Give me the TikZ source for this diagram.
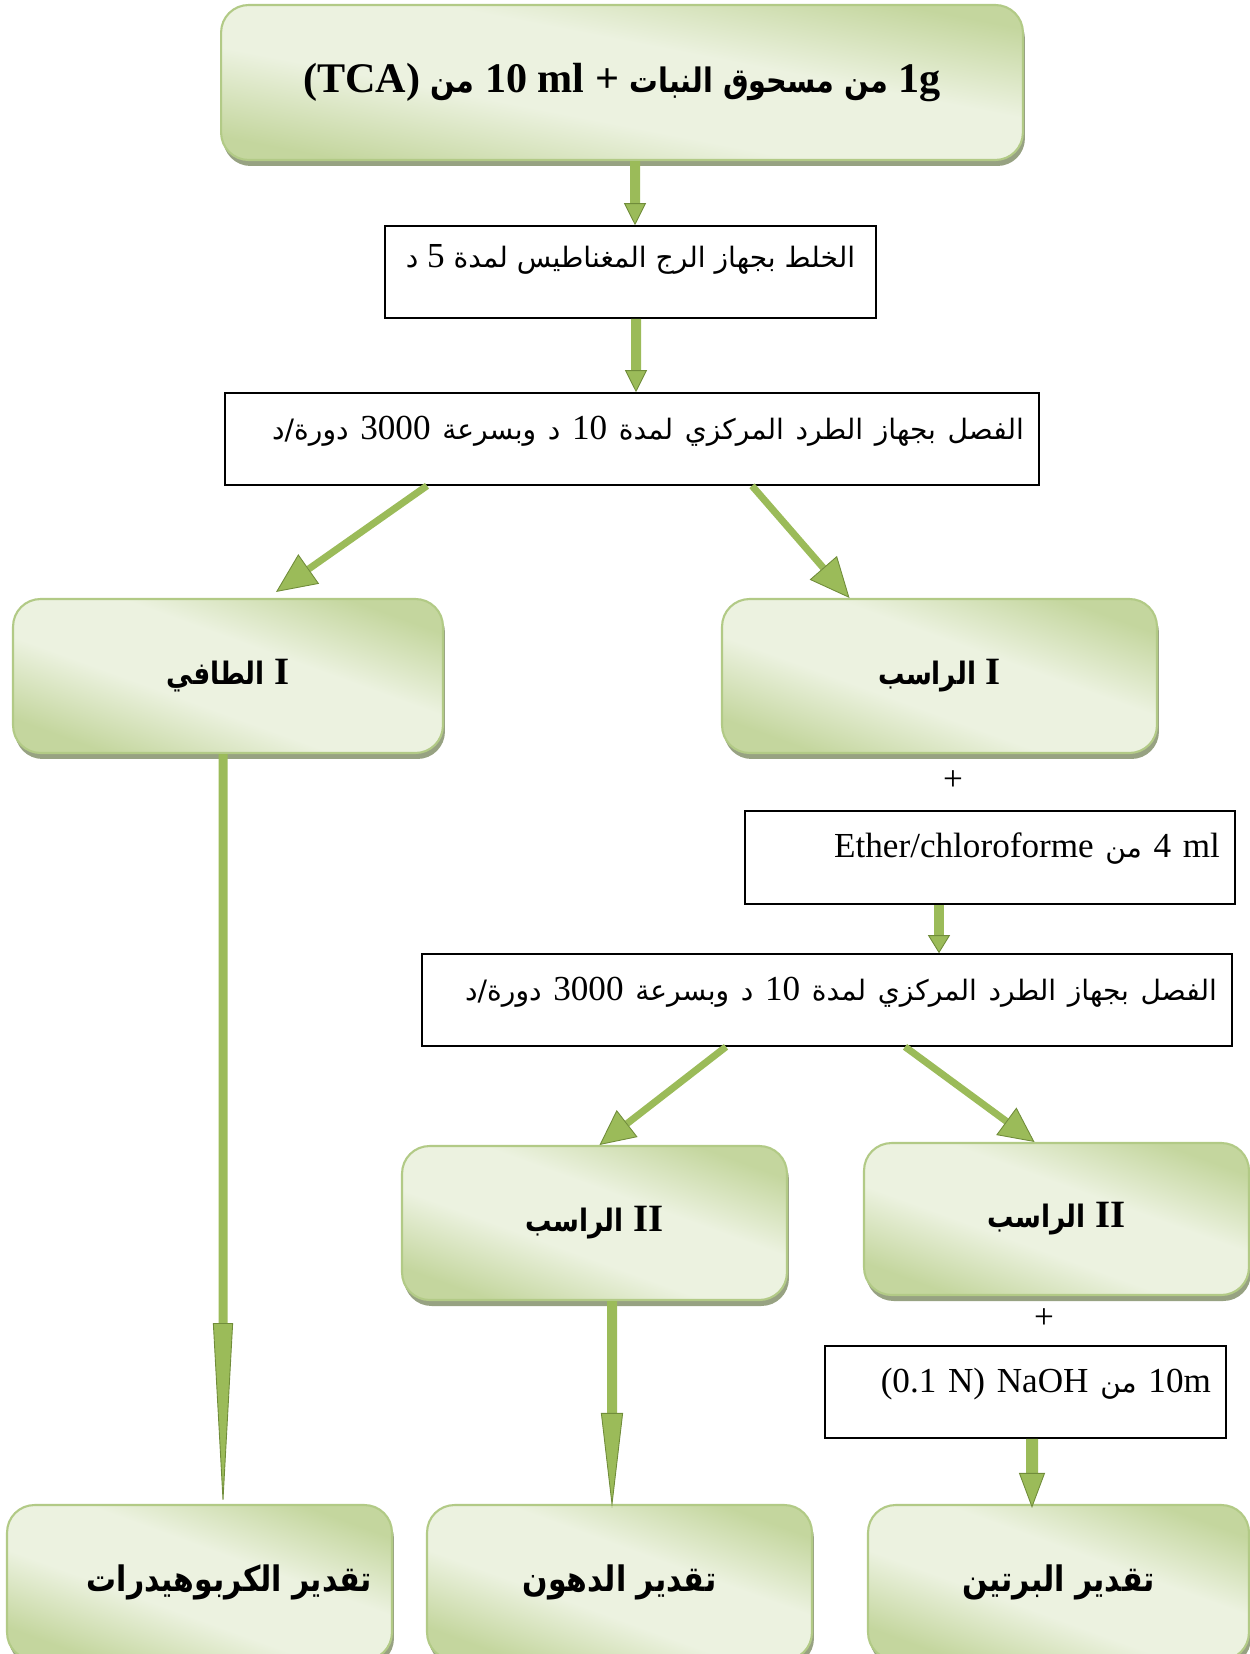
\documentclass[tikz,border=0pt]{standalone}
\usepackage{fontspec}
\setmainfont{Liberation Serif}
\newfontfamily\arabicfont[Script=Arabic, Scale=0.8, BoldFeatures={FakeStretch=0.85}]{DejaVu Sans}
\TeXXeTstate=1
\usetikzlibrary{arrows.meta,shadows}

\definecolor{leafLight}{RGB}{236,242,224}
\definecolor{leafDark}{RGB}{196,214,158}
\definecolor{leafEdge}{RGB}{178,202,134}
\definecolor{leafShadow}{RGB}{140,152,116}
\definecolor{stemGreen}{RGB}{155,187,89}
\definecolor{stemDark}{RGB}{112,140,58}

\pgfdeclarehorizontalshading{leafshade}{100bp}{color(0bp)=(leafDark); color(25bp)=(leafDark); color(42bp)=(leafLight); color(58bp)=(leafLight); color(75bp)=(leafDark); color(100bp)=(leafDark)}

\tikzset{
  leafbox/.style={draw=leafEdge, line width=1.2pt, rounded corners=0.55cm, shade, shading=leafshade, shading angle=70,
    drop shadow={shadow xshift=0.04cm, shadow yshift=-0.12cm, fill=leafShadow, opacity=0.9},
    font=\fontsize{22}{26}\selectfont\bfseries},
  stepbox/.style={draw, line width=0.9pt, inner xsep=0.3cm, inner ysep=0pt, align=right,
    text height=0.5cm, text depth=0.5cm, font=\fontsize{20}{24}\selectfont},
  flow/.style 2 args={draw=stemGreen, line width=0.2cm,
    -{Triangle[width=#1, length=#2, fill=stemGreen, color=stemDark, line width=0.5pt]}}
}

\begin{document}
\begin{tikzpicture}[x=0.02cm, y=-0.02cm]
\useasboundingbox (0,0) rectangle (1249,1654);

\node[leafbox, shading angle=79, minimum width=16.04cm, minimum height=3.1cm, font=\fontsize{24}{28}\selectfont\bfseries] (top) at (622,82.5)
  {\beginR 1g {\arabicfont من مسحوق النبات} + \beginL 10 ml\endL{} {\arabicfont من} \beginL(TCA)\endL\endR};

\node[stepbox, minimum width=9.82cm, minimum height=1.84cm, text depth=0.7cm] (mix) at (630.5,272)
  {\beginR{\arabicfont الخلط بجهاز الرج المغناطيس لمدة} 5 {\arabicfont د}\endR};

\node[stepbox, text width=15.68cm, minimum height=1.84cm] (sep1) at (632,439)
  {\beginR{\arabicfont الفصل بجهاز الطرد المركزي لمدة} 10 {\arabicfont د وبسرعة} 3000 {\arabicfont دورة/د}\endR};

\node[leafbox, minimum width=8.6cm, minimum height=3.08cm] (sup) at (228,676)
  {\beginR I {\arabicfont الطافي}\endR};
\node[leafbox, minimum width=8.7cm, minimum height=3.08cm] (prec1) at (939.5,676)
  {\beginR I {\arabicfont الراسب}\endR};

\node[font=\fontsize{20}{24}\selectfont] (plus1) at (953,781) {+};

\node[stepbox, text width=9.2cm, minimum height=1.86cm] (ether) at (990,857.5)
  {\beginR\beginL 4 ml\endL{} {\arabicfont من} Ether/chloroforme\endR};

\node[stepbox, text width=15.6cm, minimum height=1.84cm] (sep2) at (827,1000)
  {\beginR{\arabicfont الفصل بجهاز الطرد المركزي لمدة} 10 {\arabicfont د وبسرعة} 3000 {\arabicfont دورة/د}\endR};

\node[leafbox, minimum width=7.7cm, minimum height=3.08cm] (prec2a) at (594.5,1223)
  {\beginR II {\arabicfont الراسب}\endR};
\node[leafbox, minimum width=7.7cm, minimum height=3.04cm] (prec2b) at (1056.5,1219)
  {\beginR II {\arabicfont الراسب}\endR};

\node[font=\fontsize{20}{24}\selectfont] (plus2) at (1044,1319) {+};

\node[stepbox, text width=7.42cm, minimum height=1.84cm] (naoh) at (1025.5,1392)
  {\beginR 10m {\arabicfont من} \beginL(0.1 N) NaOH\endL\endR};

\node[leafbox, minimum width=7.7cm, minimum height=3.1cm, font=\fontsize{25}{30}\selectfont\bfseries] (carb) at (199.5,1582.5)
  {\hspace*{1.2cm}\beginR{\arabicfont تقدير الكربوهيدرات}\endR};
\node[leafbox, minimum width=7.7cm, minimum height=3.1cm, font=\fontsize{25}{30}\selectfont\bfseries] (fat) at (619.5,1582.5)
  {\beginR{\arabicfont تقدير الدهون}\endR};
\node[leafbox, minimum width=7.62cm, minimum height=3.1cm, font=\fontsize{25}{30}\selectfont\bfseries] (prot) at (1058.5,1582.5)
  {\beginR{\arabicfont تقدير البرتين}\endR};

\draw[flow={0.44cm}{0.44cm}] ([shift={(13,0)}]top.south) -- ([shift={(4.5,0)}]mix.north);
\draw[flow={0.44cm}{0.44cm}] ([shift={(5.5,0)}]mix.south) -- ([shift={(4,0)}]sep1.north);
\draw[flow={0.72cm}{0.8cm}, line width=0.14cm] ([shift={(-205,0)}]sep1.south) -- ([shift={(48,-6)}]sup.north);
\draw[flow={0.72cm}{0.8cm}, line width=0.14cm] ([shift={(120,0)}]sep1.south) -- ([shift={(-90,0)}]prec1.north);
\draw[flow={0.4cm}{3.7cm}, line width=0.18cm] ([shift={(-5,0)}]sup.south) -- ([shift={(23.5,4)}]carb.north);
\draw[flow={0.44cm}{0.36cm}] ([shift={(-51,0)}]ether.south) -- ([shift={(112,0)}]sep2.north);
\draw[flow={0.68cm}{0.7cm}, line width=0.14cm] ([shift={(-101,0)}]sep2.south) -- ([shift={(5,0)}]prec2a.north);
\draw[flow={0.68cm}{0.7cm}, line width=0.14cm] ([shift={(78,0)}]sep2.south) -- ([shift={(-22,0)}]prec2b.north);
\draw[flow={0.44cm}{1.9cm}] ([shift={(17.5,0)}]prec2a.south) -- ([shift={(-7.5,4)}]fat.north);
\draw[flow={0.52cm}{0.7cm}, line width=0.24cm] ([shift={(6.5,0)}]naoh.south) -- ([shift={(-26.5,4)}]prot.north);
\end{tikzpicture}
\end{document}
